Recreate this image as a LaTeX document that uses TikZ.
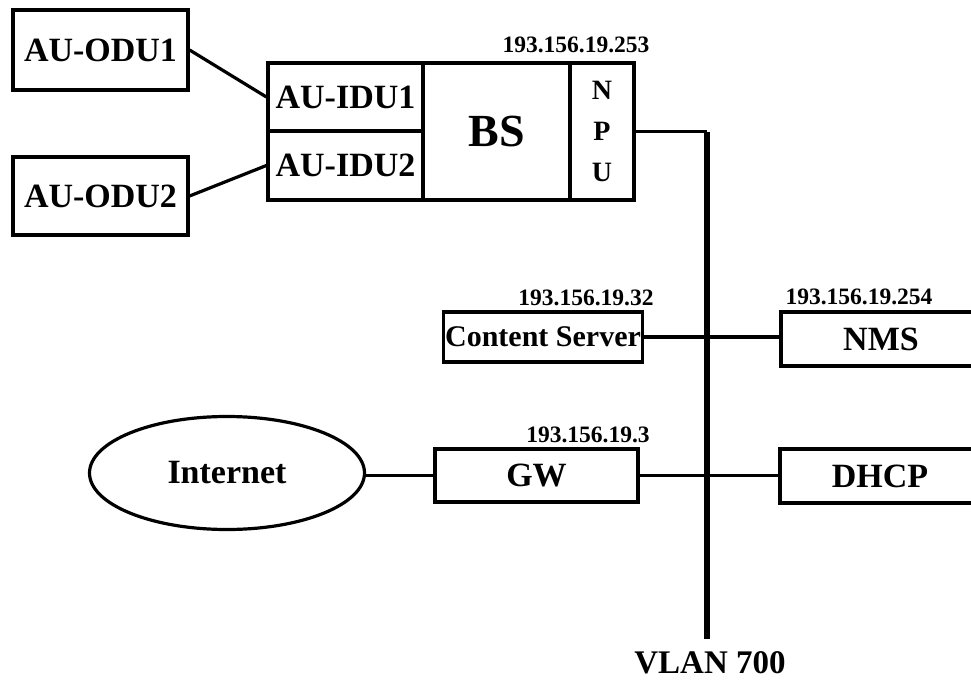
\documentclass[tikz,border=0pt]{standalone}
\usepackage{fontspec}
\setmainfont{Liberation Serif}
\usetikzlibrary{shapes.geometric}

\begin{document}
\begin{tikzpicture}[x=1pt,y=-1pt,
  unit/.style={draw,line width=3.2pt,inner sep=0pt,
    font=\fontsize{34}{40}\selectfont\bfseries},
  link/.style={line width=3.2pt},
  bus/.style={line width=6pt},
  addr/.style={font=\fontsize{23.5}{27}\selectfont\bfseries}]
  \useasboundingbox (0,0) rectangle (971,682);

  % outdoor units
  \node[unit,minimum width=175pt,minimum height=80pt] (odu1) at (100.5,50) {AU-ODU1};
  \node[unit,minimum width=175pt,minimum height=78pt] (odu2) at (100.5,196) {AU-ODU2};

  % base station with its indoor units and npu
  \node[unit,minimum width=155pt,minimum height=68pt] (idu1) at (345.5,97) {AU-IDU1};
  \node[unit,minimum width=155pt,minimum height=69pt] (idu2) at (345.5,165.5) {AU-IDU2};
  \node[unit,minimum width=147pt,minimum height=137pt,
    font=\fontsize{46}{50}\selectfont\bfseries] (bs) at (496.5,131.5) {BS};
  \node[unit,minimum width=64pt,minimum height=137pt,align=center,
    font=\fontsize{28}{41}\selectfont\bfseries] (npu) at (602,131.5) {N\\P\\U};
  \node[addr] (ipbs) at (576,45) {193.156.19.253};

  \draw[link] (odu1.east) -- (idu1.west);
  \draw[link] (odu2.east) -- (idu2.west);

  % vlan bus
  \coordinate (busend) at (707,639);
  \draw[link] (npu.east) -- (npu.east -| busend);
  \draw[bus] (npu.east -| busend) -- (busend);
  \node[font=\fontsize{33}{36}\selectfont\bfseries] (vlan) at (710,663) {VLAN 700};

  % servers on the bus
  \node[unit,minimum width=199pt,minimum height=50pt,
    font=\fontsize{30}{34}\selectfont\bfseries] (cs) at (543,337) {Content Server};
  \node[addr] (ipcs) at (586,298) {193.156.19.32};
  \node[unit,minimum width=200pt,minimum height=54pt] (nms) at (881,339) {NMS};
  \node[addr] (ipnms) at (859,297) {193.156.19.254};
  \draw[link] (cs.east) -- (nms.west |- cs.east);

  \node[unit,minimum width=203pt,minimum height=53pt] (gw) at (536.5,475.5) {GW};
  \node[addr] (ipgw) at (588,435) {193.156.19.3};
  \node[unit,minimum width=200pt,minimum height=54pt] (dhcp) at (880,476) {DHCP};
  \draw[link] (gw.east) -- (dhcp.west |- gw.east);

  % internet cloud
  \node[unit,ellipse,minimum width=275pt,minimum height=113pt] (inet) at (227,473) {Internet};
  \draw[link] (inet.east |- gw.west) -- (gw.west);
\end{tikzpicture}
\end{document}
